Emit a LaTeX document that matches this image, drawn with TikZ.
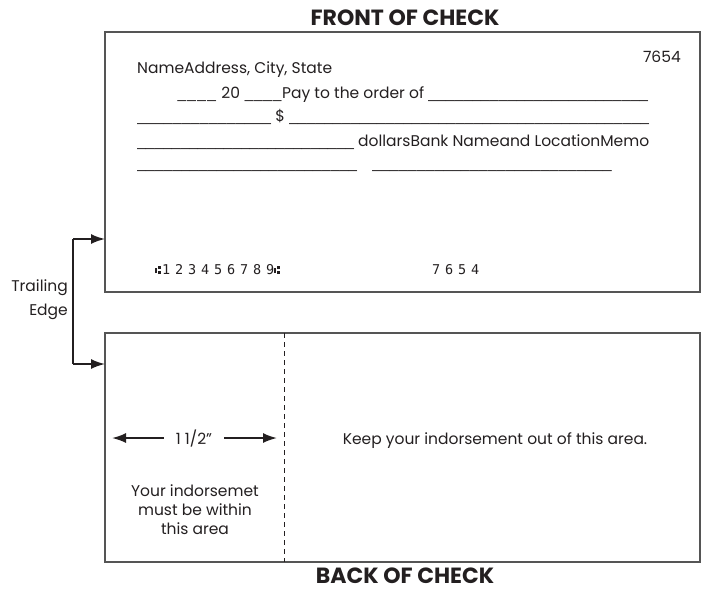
\documentclass[tikz,border=0pt]{standalone}
\usepackage{fontspec}
\setmainfont{Poppins}
\newfontfamily\micrfont[LetterSpace=36]{DejaVu Sans Mono}
\newfontfamily\symfont{DejaVu Sans}
\newfontfamily\linefont{Liberation Sans}
\usepackage{xcolor}
\usetikzlibrary{positioning,calc}
\usetikzlibrary{arrows.meta}
\definecolor{Ink}{RGB}{35,31,32}
\definecolor{Frame}{RGB}{85,85,85}
\newcommand{\blank}[1]{\leavevmode\xleaders\hbox{\linefont\_}\hskip#1pt\relax}
\newcommand{\blankfill}{\leavevmode\xleaders\hbox{\linefont\_}\hfill}
\newcommand{\transit}{{\symfont\iffontchar\font"2446 ⑆\else
    \rule[1pt]{1.5pt}{5.5pt}\hspace{1.5pt}\rlap{\rule[4.8pt]{3pt}{3pt}}\rule[0pt]{3pt}{3pt}\hspace{1pt}\fi}}

\begin{document}
\begin{tikzpicture}[x=1pt,y=-1pt,
    checkbox/.style={draw=Frame,line width=1.2pt},
    checktext/.style={anchor=base west,inner sep=0pt,text=Ink,
        font=\fontsize{15.5pt}{19pt}\selectfont},
    micr/.style={anchor=base west,inner sep=0pt,text=Ink,
        font=\micrfont\fontsize{13.5pt}{15pt}\selectfont},
    heading/.style={anchor=base,inner sep=0pt,text depth=0pt,text=Ink,
        font=\fontsize{22pt}{24pt}\selectfont\bfseries},
    pointer/.style={draw=Ink,line width=1.8pt,-{Latex[length=14pt,width=10pt]}}]
    \useasboundingbox (0,0) rectangle (706,589);
    % front of check
    \draw (405,25) node[heading] (fronttitle) {FRONT OF CHECK};
    \draw[checkbox] (105,32) rectangle (700,292);
    \coordinate (frontedge) at (105,239);
    \draw (681,62.7) node[checktext,anchor=base east] (checkno) {7654};
    \draw (137,73.3) node[checktext] (namerow) {NameAddress, City, State};
    \draw (176,98) node[checktext] (payrow)
        {\makebox[472pt][l]{\blank{41} 20 \blank{38}Pay to the order of \blankfill}};
    \draw (137,121.7) node[checktext] (amountrow)
        {\makebox[512pt][l]{\blank{134} \$ \blankfill}};
    \draw (137,146) node[checktext] (dollarsrow)
        {\makebox[512pt][l]{\blankfill\ dollarsBank Nameand LocationMemo}};
    \draw (137,168.5) node[checktext] (signrow)
        {\makebox[475pt][l]{\blank{220}\hspace{15pt}\blank{240}}};
    \draw (155,274) node[micr] (micrrow) {\transit123456789\transit};
    \draw (432,274) node[micr] (micrno) {7654};
    % back of check
    \draw[checkbox] (105,333) rectangle (700,562);
    \coordinate (backedge) at (105,364);
    \coordinate (zonetop) at (284,333);
    \coordinate (zonebottom) at (284,562);
    \draw[draw=Ink,line width=1pt,dash pattern=on 5pt off 4pt] (zonetop) -- (zonebottom);
    \draw (194,444) node[checktext,anchor=base] (halfinch) {1 1/2”};
    \coordinate (leftlimit) at (112,438);
    \coordinate (rightlimit) at (277,438);
    \draw[pointer] (halfinch.west |- leftlimit) ++(-12,0) coordinate (halfleft) -- (leftlimit);
    \draw[pointer] (halfinch.east |- rightlimit) ++(12,0) coordinate (halfright) -- (rightlimit);
    \draw (495,444.5) node[checktext,anchor=base] (keepout)
        {Keep your indorsement out of this area.};
    \draw (195,534) node[checktext,anchor=base,align=center] (keepin)
        {Your indorsemet\\must be within\\this area};
    \draw (405,583.5) node[heading] (backtitle) {BACK OF CHECK};
    % trailing edge
    \draw (68,315) node[checktext,anchor=base east,align=right,
        font=\fontsize{15.5pt}{23.3pt}\selectfont] (trailing) {Trailing\\Edge};
    \coordinate (bracket) at (73,302);
    \draw[pointer] (bracket |- frontedge) -- (frontedge);
    \draw[pointer] (bracket |- backedge) -- (backedge);
    \draw[draw=Ink,line width=1.8pt] (bracket |- frontedge) -- (bracket |- backedge);
\end{tikzpicture}
\end{document}
